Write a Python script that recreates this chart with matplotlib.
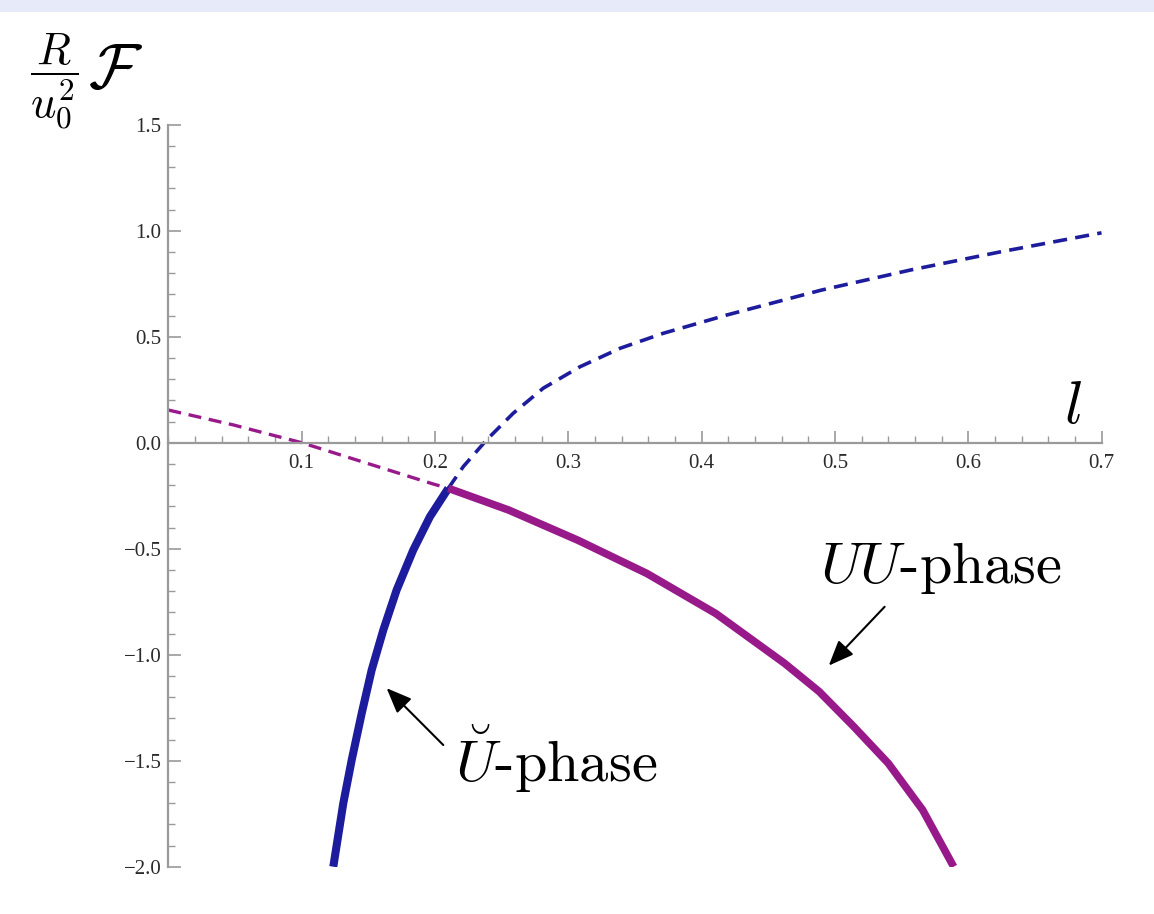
import matplotlib
matplotlib.use("Agg")
import matplotlib.pyplot as plt
from matplotlib.patches import Rectangle
from matplotlib.ticker import MultipleLocator, FuncFormatter

# ---- data ----
# U-breve phase (blue): solid part (stable) and dashed continuation
blue_solid_l = [0.1237, 0.1312, 0.1375, 0.1450, 0.1525, 0.1612, 0.1712, 0.1837, 0.1962, 0.2100]
blue_solid_F = [-2.0, -1.701, -1.497, -1.277, -1.072, -0.884, -0.695, -0.506, -0.349, -0.215]
blue_dash_l = [0.2100, 0.2212, 0.2387, 0.2587, 0.2812, 0.3087, 0.3387, 0.3712, 0.4187,
               0.490, 0.557, 0.624, 0.700]
blue_dash_F = [-0.215, -0.113, 0.013, 0.139, 0.257, 0.358, 0.445, 0.516, 0.602,
               0.72, 0.815, 0.90, 0.99]

# UU phase (purple): dashed part and solid (stable) part
purple_dash_l = [0.0, 0.0486, 0.1, 0.149, 0.1987, 0.2100]
purple_dash_F = [0.154, 0.084, 0.0, -0.097, -0.195, -0.215]
purple_solid_l = [0.2100, 0.2554, 0.3072, 0.3590, 0.4107, 0.4623, 0.4882, 0.5141, 0.5400, 0.5658, 0.5891]
purple_solid_F = [-0.215, -0.318, -0.460, -0.617, -0.806, -1.041, -1.174, -1.339, -1.512, -1.732, -2.0]

x_ticks = [0.1, 0.2, 0.3, 0.4, 0.5, 0.6, 0.7]
y_ticks = [-2.0, -1.5, -1.0, -0.5, 0.0, 0.5, 1.0, 1.5]

BLUE = "#1c1c9c"
PURPLE = "#981a8a"
AXC = "#9a9a9a"

plt.rcParams["mathtext.fontset"] = "cm"

fig = plt.figure(figsize=(11.54, 9.14), dpi=100)
fig.patches.append(Rectangle((0, 1 - 12 / 914), 1, 12 / 914, transform=fig.transFigure,
                             facecolor="#e7eaf8", edgecolor="none", zorder=0))

ax = fig.add_axes([168.4 / 1154, 1 - 866.7 / 914, (1101.5 - 168.4) / 1154, (866.7 - 124.7) / 914])
ax.set_xlim(0, 0.7)
ax.set_ylim(-2.0, 1.5)

ax.plot(purple_dash_l, purple_dash_F, color=PURPLE, lw=2.4, dashes=(3.9, 2.3))
ax.plot(blue_dash_l, blue_dash_F, color=BLUE, lw=2.6, dashes=(3.9, 2.3))
ax.plot(blue_solid_l, blue_solid_F, color=BLUE, lw=5.8, solid_capstyle="butt", solid_joinstyle="round")
ax.plot(purple_solid_l, purple_solid_F, color=PURPLE, lw=5.5, solid_capstyle="butt", solid_joinstyle="round")

for s in ["top", "right"]:
    ax.spines[s].set_visible(False)
ax.spines["left"].set_position(("data", 0))
ax.spines["bottom"].set_position(("data", 0))
for s in ["left", "bottom"]:
    ax.spines[s].set_color(AXC)
    ax.spines[s].set_linewidth(1.6)

ax.set_xticks(x_ticks)
ax.set_yticks(y_ticks)
ax.xaxis.set_minor_locator(MultipleLocator(0.02))
ax.yaxis.set_minor_locator(MultipleLocator(0.1))
fmt = FuncFormatter(lambda v, p: ("%.1f" % v).replace("-", "\u2212"))
ax.xaxis.set_major_formatter(fmt)
ax.yaxis.set_major_formatter(fmt)
ax.tick_params(which="both", direction="in", color=AXC, labelcolor="#2a2a2a")
ax.tick_params(which="major", length=9, width=1.2, labelsize=15, pad=8)
ax.tick_params(which="minor", length=5, width=1.0)
ax.tick_params(axis="y", which="major", pad=5)
for lab in ax.get_xticklabels() + ax.get_yticklabels():
    lab.set_fontfamily("Liberation Serif")

# axis labels
fig.text(30 / 1154, 1 - 82 / 914, r"$\dfrac{R}{u_0^2}$", fontsize=32, ha="left", va="center")
fig.text(88 / 1154, 1 - 70 / 914, r"$\mathcal{F}$", fontsize=46, ha="left", va="center")
ax.text(0.6785, 0.03, r"$l$", fontsize=44, ha="center", va="bottom")

# annotations: labels
ax.text(0.4887, -0.662, r"$UU$-phase", fontsize=42, fontfamily="cmr10", ha="left", va="baseline")
ax.text(0.2150, -1.599, r"$\breve{U}$-phase", fontsize=42, fontfamily="cmr10", ha="left", va="baseline")

# annotations: arrows (tail -> tip)
arrow_kw = dict(arrowstyle="-|>,head_length=1.1,head_width=0.45", color="black", lw=1.5,
                mutation_scale=14, shrinkA=0, shrinkB=0)
ax.annotate("", xy=(0.4954, -1.0514), xytext=(0.5373, -0.774), arrowprops=arrow_kw)
ax.annotate("", xy=(0.1637, -1.158), xytext=(0.2062, -1.426), arrowprops=arrow_kw)

fig.savefig("out.png", dpi=100, facecolor="white")
